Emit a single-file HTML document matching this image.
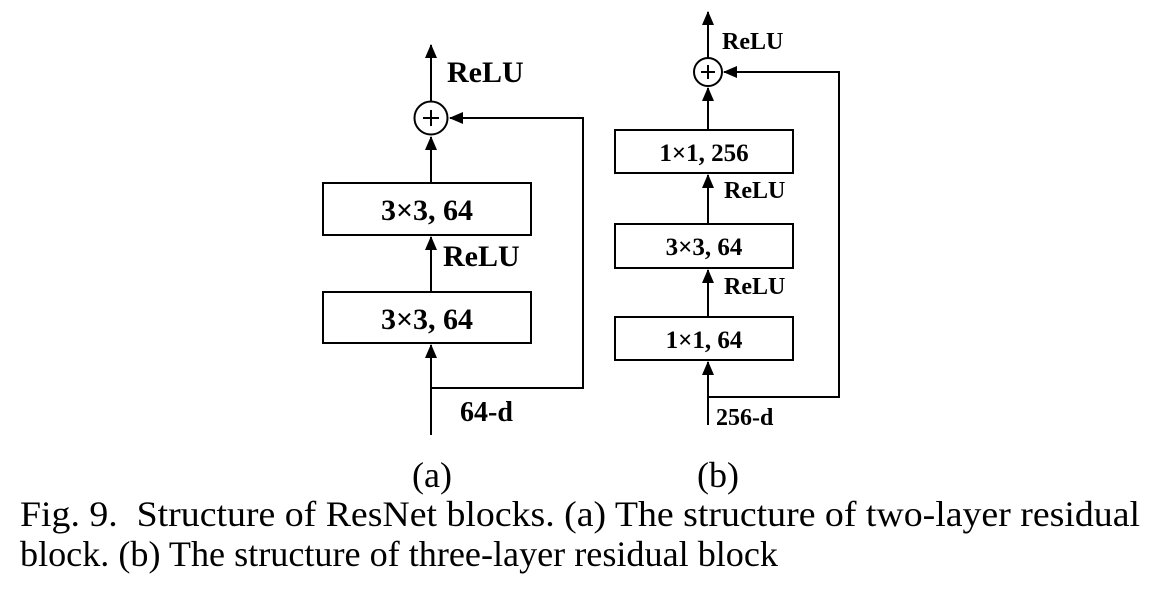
<!DOCTYPE html>
<html><head><style>html,body{margin:0;padding:0;background:#fff}svg{display:block}text{font-family:"Liberation Serif","Times New Roman",serif}</style></head>
<body>
<svg width="1170" height="591" viewBox="0 0 1170 591" xmlns="http://www.w3.org/2000/svg">
<defs><marker id="ar" markerWidth="14" markerHeight="14" refX="13" refY="6" orient="auto" markerUnits="userSpaceOnUse"><path d="M0,0 L14,6 L0,12 z" fill="#000"/></marker></defs>
<g stroke="#000" stroke-width="2" fill="none">
<line x1="431" y1="435" x2="431" y2="345" marker-end="url(#ar)"/>
<line x1="431" y1="292" x2="431" y2="237" marker-end="url(#ar)"/>
<line x1="431" y1="183" x2="431" y2="137" marker-end="url(#ar)"/>
<line x1="431" y1="101" x2="431" y2="45" marker-end="url(#ar)"/>
<circle cx="431" cy="118" r="16.5"/>
<line x1="423" y1="118" x2="439" y2="118"/><line x1="431" y1="110" x2="431" y2="126"/>
<polyline points="431,388 583,388 583,118 450,118" marker-end="url(#ar)"/>
<rect x="323" y="183" width="208" height="52"/>
<rect x="323" y="292" width="208" height="51"/>
<line x1="708" y1="425" x2="708" y2="362" marker-end="url(#ar)"/>
<line x1="708" y1="317" x2="708" y2="270" marker-end="url(#ar)"/>
<line x1="708" y1="224" x2="708" y2="175" marker-end="url(#ar)"/>
<line x1="708" y1="130" x2="708" y2="88" marker-end="url(#ar)"/>
<line x1="708" y1="58" x2="708" y2="12" marker-end="url(#ar)"/>
<circle cx="708" cy="72" r="14"/>
<line x1="701" y1="72" x2="715" y2="72"/><line x1="708" y1="65" x2="708" y2="79"/>
<polyline points="708,397 839,397 839,72 724,72" marker-end="url(#ar)"/>
<rect x="615" y="130" width="178" height="43"/>
<rect x="615" y="224" width="178" height="44"/>
<rect x="615" y="317" width="178" height="43"/>
</g>
<g font-weight="bold" fill="#000">
<text x="447" y="82" font-size="30">ReLU</text>
<text x="427" y="220" font-size="30" text-anchor="middle">3×3, 64</text>
<text x="443" y="266" font-size="30">ReLU</text>
<text x="427" y="329" font-size="30" text-anchor="middle">3×3, 64</text>
<text x="460" y="421" font-size="28">64-d</text>
<text x="722" y="49" font-size="24">ReLU</text>
<text x="704" y="161" font-size="25" text-anchor="middle">1×1, 256</text>
<text x="724" y="198" font-size="24">ReLU</text>
<text x="704" y="255" font-size="25" text-anchor="middle">3×3, 64</text>
<text x="724" y="294" font-size="24">ReLU</text>
<text x="704" y="348" font-size="25" text-anchor="middle">1×1, 64</text>
<text x="716" y="425" font-size="24">256-d</text>
</g>
<g fill="#000" font-size="36">
<text x="432" y="487" text-anchor="middle">(a)</text>
<text x="718" y="487" text-anchor="middle">(b)</text>
<text x="20" y="526" textLength="1120" lengthAdjust="spacingAndGlyphs" xml:space="preserve">Fig. 9.  Structure of ResNet blocks. (a) The structure of two-layer residual</text>
<text x="20" y="566" textLength="758" lengthAdjust="spacingAndGlyphs">block. (b) The structure of three-layer residual block</text>
</g>
</svg>
</body></html>
